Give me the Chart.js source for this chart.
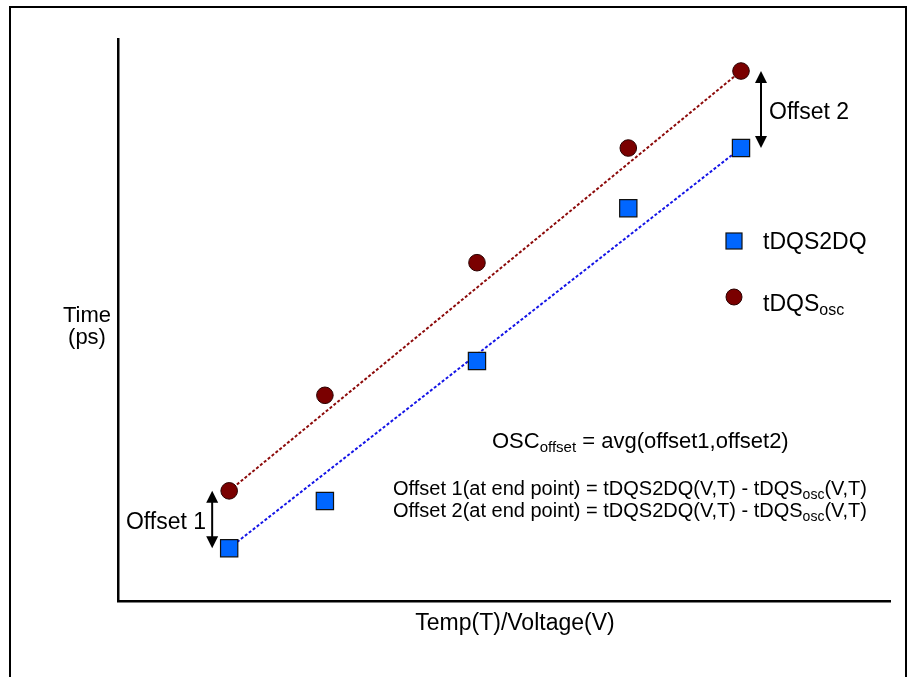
<!DOCTYPE html>
<html>
<head>
<meta charset="utf-8">
<script src="https://cdn.jsdelivr.net/npm/chart.js@4/dist/chart.umd.min.js"></script>
<style>
  html, body { margin: 0; padding: 0; background: #fff; }
  canvas { display: block; }
</style>
</head>
<body>
<canvas id="osc_offset_chart" width="909" height="677"></canvas>
<script>
Chart.defaults.font.family = "'Liberation Sans', Arial, sans-serif"; // Arial look-alike

// temp/voltage steps along x (arbitrary units, axis runs 0..10)
const x_steps = [1.44, 2.68, 4.65, 6.61, 8.07];
// measured times (arbitrary units, axis runs 0..10)
const tdqs2dq = [0.94, 1.78, 4.27, 6.99, 8.06];
const tdqs_osc = [1.96, 3.66, 6.02, 8.06, 9.43];
const x_range = [0, 10];
const y_range = [0, 10];

const colors_osc = {
  square: '#0066ff',
  circle: '#7a0000',
  blueLine: '#1414e6',
  redLine: '#8c0a0a',
};

const pts = (ys) => x_steps.map((x, i) => ({ x: x, y: ys[i] }));
// dotted lines join the two end points of each series
const ends = (ys) => [
  { x: x_steps[0], y: ys[0] },
  { x: x_steps[x_steps.length - 1], y: ys[ys.length - 1] },
];

const data_osc = {
  datasets: [
    {
      label: 'tDQS2DQ',
      data: pts(tdqs2dq),
      pointStyle: 'rect',
      pointRadius: 12.2,
      backgroundColor: colors_osc.square,
      borderColor: '#111',
      borderWidth: 1.2,
      showLine: false,
    },
    {
      label: 'tDQSosc',
      data: pts(tdqs_osc),
      pointStyle: 'circle',
      pointRadius: 8.3,
      backgroundColor: colors_osc.circle,
      borderColor: '#2a0000',
      borderWidth: 1,
      showLine: false,
    },
    {
      label: 'fit tDQS2DQ',
      data: ends(tdqs2dq),
      showLine: true,
      pointRadius: 0,
      borderColor: colors_osc.blueLine,
      borderWidth: 2,
      borderDash: [3, 2],
    },
    {
      label: 'fit tDQSosc',
      data: ends(tdqs_osc),
      showLine: true,
      pointRadius: 0,
      borderColor: colors_osc.redLine,
      borderWidth: 2,
      borderDash: [3, 2],
    },
  ],
};

// text with optional subscript pieces: [[text, isSub], ...]
function richText(ctx, parts, x, y, size, subSize, align) {
  let total = 0;
  const widths = parts.map(([t, sub]) => {
    ctx.font = (sub ? subSize : size) + "px 'Liberation Sans', Arial, sans-serif";
    const w = ctx.measureText(t).width;
    total += w;
    return w;
  });
  let cx = align === 'center' ? x - total / 2 : align === 'right' ? x - total : x;
  ctx.textAlign = 'left';
  ctx.textBaseline = 'alphabetic';
  parts.forEach(([t, sub], i) => {
    ctx.font = (sub ? subSize : size) + "px 'Liberation Sans', Arial, sans-serif";
    ctx.fillText(t, cx, sub ? y + 4 : y);
    cx += widths[i];
  });
}

function arrow(ctx, x, y1, y2) {
  const head = 12, half = 6;
  ctx.strokeStyle = '#000';
  ctx.fillStyle = '#000';
  ctx.lineWidth = 2;
  ctx.beginPath();
  ctx.moveTo(x, y1 + head - 1);
  ctx.lineTo(x, y2 - head + 1);
  ctx.stroke();
  ctx.beginPath();
  ctx.moveTo(x, y1);
  ctx.lineTo(x - half, y1 + head);
  ctx.lineTo(x + half, y1 + head);
  ctx.closePath();
  ctx.fill();
  ctx.beginPath();
  ctx.moveTo(x, y2);
  ctx.lineTo(x - half, y2 - head);
  ctx.lineTo(x + half, y2 - head);
  ctx.closePath();
  ctx.fill();
}

const notes_osc = {
  id: 'notes_osc',
  afterDraw(chart) {
    const ctx = chart.ctx;
    const xs = chart.scales.x, ys = chart.scales.y;
    const last = x_steps.length - 1;
    ctx.save();

    // frame round the figure (open at the bottom)
    ctx.strokeStyle = '#000';
    ctx.lineWidth = 2;
    ctx.beginPath();
    ctx.moveTo(10, 677);
    ctx.lineTo(10, 7);
    ctx.lineTo(906, 7);
    ctx.lineTo(906, 677);
    ctx.stroke();

    // offset arrows between the end points
    arrow(ctx, xs.getPixelForValue(x_steps[0]) - 17,
      ys.getPixelForValue(tdqs_osc[0]), ys.getPixelForValue(tdqs2dq[0]));
    arrow(ctx, xs.getPixelForValue(x_steps[last]) + 20,
      ys.getPixelForValue(tdqs_osc[last]), ys.getPixelForValue(tdqs2dq[last]));

    ctx.fillStyle = '#000';
    richText(ctx, [['Offset 1', false]], 206, 529, 23, 15, 'right');
    richText(ctx, [['Offset 2', false]], 769, 119, 23, 15, 'left');

    // axis titles
    richText(ctx, [['Time', false]], 87, 322, 22, 15, 'center');
    richText(ctx, [['(ps)', false]], 87, 344, 22, 15, 'center');
    richText(ctx, [['Temp(T)/Voltage(V)', false]], 515, 630, 23, 15, 'center');

    // legend
    ctx.fillStyle = colors_osc.square;
    ctx.strokeStyle = '#111';
    ctx.lineWidth = 1.2;
    ctx.fillRect(726, 233, 16, 16);
    ctx.strokeRect(726, 233, 16, 16);
    ctx.fillStyle = colors_osc.circle;
    ctx.strokeStyle = '#2a0000';
    ctx.lineWidth = 1;
    ctx.beginPath();
    ctx.arc(734, 297, 8, 0, Math.PI * 2);
    ctx.fill();
    ctx.stroke();
    ctx.fillStyle = '#000';
    richText(ctx, [['tDQS2DQ', false]], 763, 249, 23, 15, 'left');
    richText(ctx, [['tDQS', false], ['osc', true]], 763, 311, 23, 16, 'left');

    // formulas
    richText(ctx, [['OSC', false], ['offset', true], [' = avg(offset1,offset2)', false]],
      492, 448, 22, 15, 'left');
    richText(ctx, [['Offset 1(at end point) = tDQS2DQ(V,T) - tDQS', false], ['osc', true], ['(V,T)', false]],
      393, 495, 20, 14, 'left');
    richText(ctx, [['Offset 2(at end point) = tDQS2DQ(V,T) - tDQS', false], ['osc', true], ['(V,T)', false]],
      393, 517, 20, 14, 'left');

    ctx.restore();
  },
};

const options_osc = {
  responsive: false,
  animation: false,
  layout: { padding: { left: 118, top: 39, right: 19, bottom: 76 } },
  scales: {
    x: {
      type: 'linear',
      min: x_range[0],
      max: x_range[1],
      grid: { display: false, drawTicks: false },
      ticks: { display: false },
      border: { display: true, color: '#000', width: 2.5 },
    },
    y: {
      type: 'linear',
      min: y_range[0],
      max: y_range[1],
      grid: { display: false, drawTicks: false },
      ticks: { display: false },
      border: { display: true, color: '#000', width: 2.5 },
    },
  },
  plugins: {
    legend: { display: false },
    tooltip: { enabled: false },
  },
};

const ctx_osc = document.getElementById('osc_offset_chart');
const chart_osc = new Chart(ctx_osc, {
  type: 'scatter',
  data: data_osc,
  options: options_osc,
  plugins: [notes_osc],
});
</script>
</body>
</html>
